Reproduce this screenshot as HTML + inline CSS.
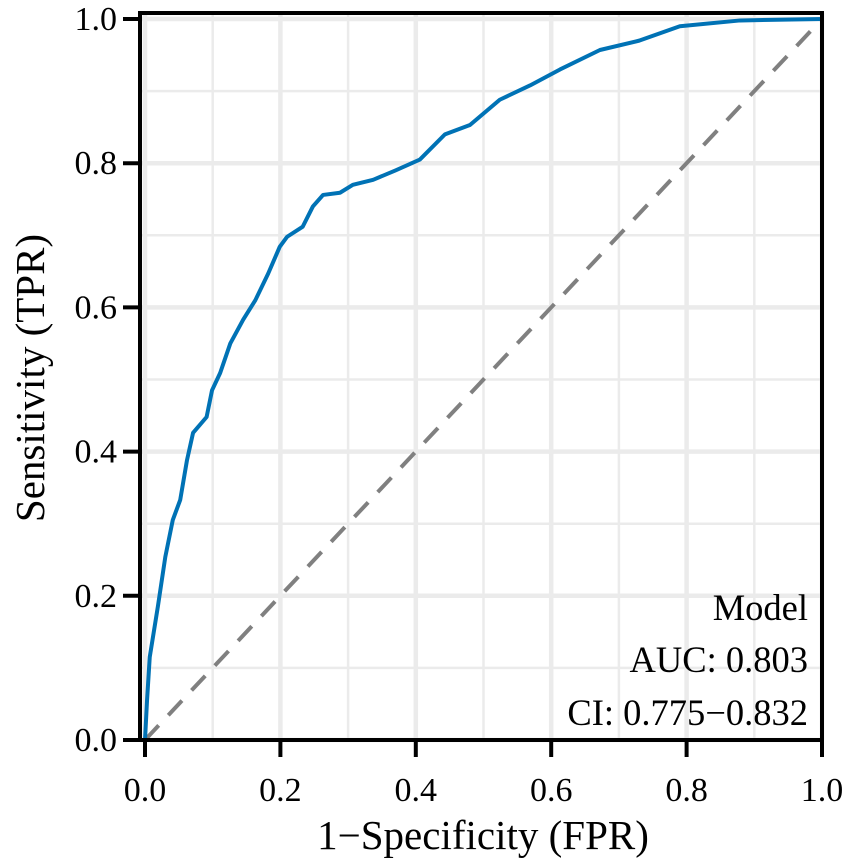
<!DOCTYPE html>
<html><head><meta charset="utf-8"><style>
html,body{margin:0;padding:0;background:#fff;}
svg{display:block;font-family:"Liberation Serif",serif;}
</style></head><body>
<svg id="chart" width="851" height="864" viewBox="0 0 851 864" xmlns="http://www.w3.org/2000/svg">
<g id="grid"></g>
<line id="diag" stroke="#808080" stroke-width="4" stroke-dasharray="20,14"/>
<polyline id="roc" fill="none" stroke="#0072b5" stroke-width="4" stroke-linejoin="round"/>
<rect x="140" y="13" width="682" height="727" fill="none" stroke="#000" stroke-width="4"/>
<g id="axes"></g>
<text x="483" y="849" font-size="41" text-anchor="middle">1−Specificity (FPR)</text>
<text transform="translate(44,378) rotate(-90)" font-size="41" text-anchor="middle">Sensitivity (TPR)</text>
<g font-size="36.5" text-anchor="end">
<text x="808" y="620">Model</text>
<text x="808" y="672">AUC: 0.803</text>
<text x="808" y="725">CI: 0.775−0.832</text>
</g>
</svg>
<script>
const fpr = [0,0.003,0.007,0.019,0.03,0.041,0.052,0.062,0.071,0.091,0.099,0.111,0.126,0.145,0.163,0.182,0.199,0.21,0.233,0.248,0.263,0.288,0.307,0.337,0.37,0.406,0.443,0.48,0.524,0.569,0.613,0.672,0.73,0.79,0.879,1];
const tpr = [0,0.055,0.115,0.185,0.254,0.305,0.333,0.388,0.426,0.448,0.485,0.509,0.55,0.583,0.61,0.647,0.684,0.698,0.712,0.74,0.756,0.759,0.77,0.777,0.79,0.805,0.84,0.853,0.888,0.908,0.93,0.957,0.97,0.99,0.998,1];
const xTicks = ["0.0","0.2","0.4","0.6","0.8","1.0"];
const yTicks = ["0.0","0.2","0.4","0.6","0.8","1.0"];
const NS="http://www.w3.org/2000/svg";
const X = v => 145 + 677*v;
const Y = v => 740 - 721*v;
const grid=document.getElementById('grid');
for(let i=0;i<=10;i++){
  const v=i/10, major=i%2===0;
  const lx=document.createElementNS(NS,'line');
  
  
  lx.setAttribute('x1',X(v));lx.setAttribute('x2',X(v));lx.setAttribute('y1',13);lx.setAttribute('y2',740);
  lx.setAttribute('stroke','#ebebeb');lx.setAttribute('stroke-width',major?4.5:2.5);
  grid.appendChild(lx);
  const ly=document.createElementNS(NS,'line');
  
  
  ly.setAttribute('y1',Y(v));ly.setAttribute('y2',Y(v));ly.setAttribute('x1',140);ly.setAttribute('x2',822);
  ly.setAttribute('stroke','#ebebeb');ly.setAttribute('stroke-width',major?4.5:2.5);
  grid.appendChild(ly);
}
const d=document.getElementById('diag');
d.setAttribute('x1',X(0));d.setAttribute('y1',Y(0));d.setAttribute('x2',X(1));d.setAttribute('y2',Y(1));
document.getElementById('roc').setAttribute('points',fpr.map((f,i)=>X(f)+','+Y(tpr[i])).join(' '));
const axes=document.getElementById('axes');
xTicks.forEach(t=>{
  const v=parseFloat(t);
  const l=document.createElementNS(NS,'line');
  
  
  l.setAttribute('x1',X(v));l.setAttribute('x2',X(v));l.setAttribute('y1',740);l.setAttribute('y2',757);
  l.setAttribute('stroke','#000');l.setAttribute('stroke-width',4);axes.appendChild(l);
  const tx=document.createElementNS(NS,'text');
  
  
  tx.setAttribute('x',X(v));tx.setAttribute('y',801);tx.setAttribute('font-size',34);tx.setAttribute('text-anchor','middle');
  tx.textContent=t;axes.appendChild(tx);
});
yTicks.forEach(t=>{
  const v=parseFloat(t);
  const l=document.createElementNS(NS,'line');
  
  
  l.setAttribute('y1',Y(v));l.setAttribute('y2',Y(v));l.setAttribute('x1',123);l.setAttribute('x2',140);
  l.setAttribute('stroke','#000');l.setAttribute('stroke-width',4);axes.appendChild(l);
  const tx=document.createElementNS(NS,'text');
  
  
  tx.setAttribute('x',117);tx.setAttribute('y',Y(v)+11);tx.setAttribute('font-size',34);tx.setAttribute('text-anchor','end');
  tx.textContent=t;axes.appendChild(tx);
});
</script>
</body></html>
